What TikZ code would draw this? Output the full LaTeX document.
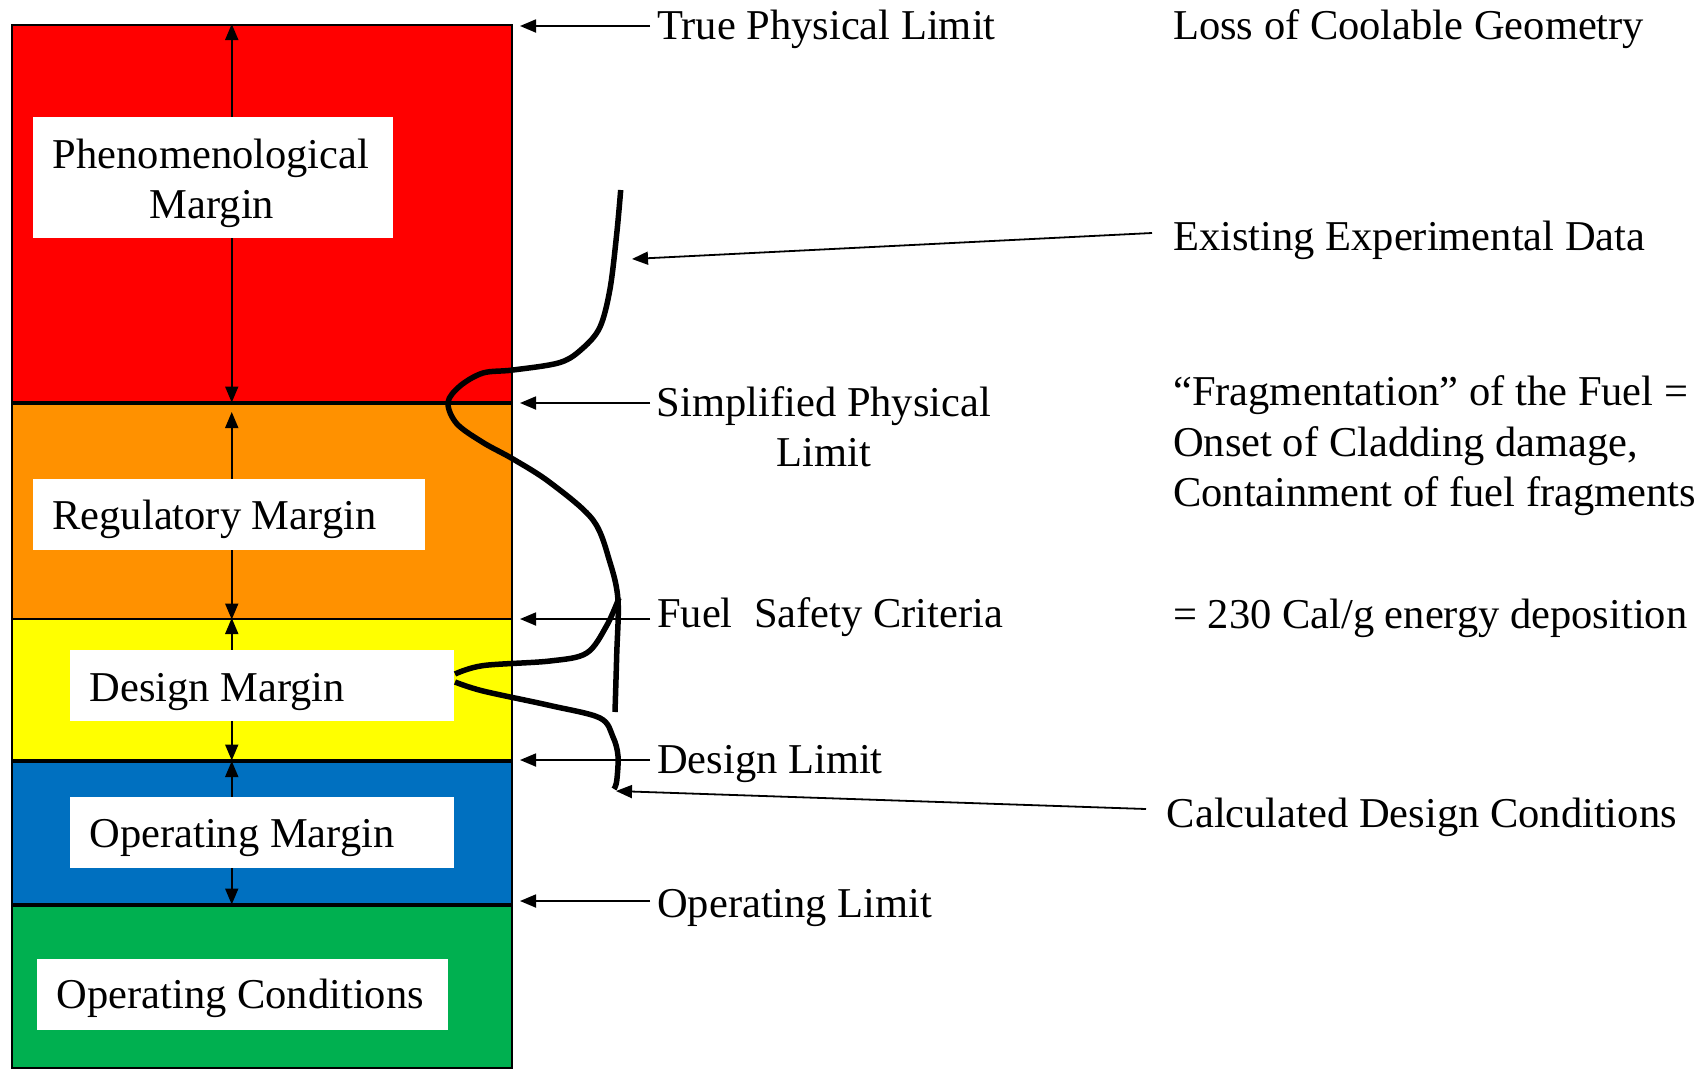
\documentclass[tikz,border=0pt]{standalone}
\usepackage{fontspec}
\setmainfont{Liberation Serif}
\usetikzlibrary{arrows.meta}
\definecolor{bandred}{HTML}{FF0000}
\definecolor{bandorange}{HTML}{FF9100}
\definecolor{bandyellow}{HTML}{FFFF00}
\definecolor{bandblue}{HTML}{0070C0}
\definecolor{bandgreen}{HTML}{00B050}

\begin{document}
\begin{tikzpicture}[x=1pt,y=-1pt,
  font=\fontsize{42.5}{50}\selectfont,
  band/.style={draw=black,line width=1.5pt,minimum width=500pt,anchor=north west,inner sep=0pt},
  whitebox/.style={fill=white,draw=none,anchor=north west,inner sep=0pt,minimum height=71pt},
  txt/.style={inner sep=0pt,anchor=base west},
  ctxt/.style={inner sep=0pt,anchor=base},
  pointer/.style={-{Triangle[length=16pt,width=13pt]},line width=1.8pt},
  span/.style={{Triangle[length=16pt,width=13pt]}-{Triangle[length=16pt,width=13pt]},line width=1.8pt},
  curve/.style={line width=5.5pt}]

\useasboundingbox (0,0) rectangle (1708,1069);

% colour bands
\node[band,fill=bandred,minimum height=377pt]    (red)    at (11,24)  {};
\node[band,fill=bandorange,minimum height=215pt] (orange) at (11,403) {};
\node[band,fill=bandyellow,minimum height=141pt] (yellow) at (11,618) {};
\node[band,fill=bandblue,minimum height=142pt]   (blue)   at (11,761) {};
\node[band,fill=bandgreen,minimum height=162pt]  (green)  at (11,905) {};

% margin extents
\draw[span] ([xshift=-30pt]red.north) -- ([xshift=-30pt]red.south);
\draw[span] ([xshift=-30pt,yshift=-9pt]orange.north) -- ([xshift=-30pt]orange.south);
\draw[span] ([xshift=-30pt]yellow.north) -- ([xshift=-30pt]yellow.south);
\draw[span] ([xshift=-30pt]blue.north) -- ([xshift=-30pt]blue.south);

% label boxes
\node[whitebox,minimum width=360pt,minimum height=121pt] (phenbox) at (33,116.5) {};
\node[whitebox,minimum width=392pt] (regbox)  at (33,479)   {};
\node[whitebox,minimum width=384pt] (desbox)  at (70,650)   {};
\node[whitebox,minimum width=384pt] (opmbox)  at (70,797)   {};
\node[whitebox,minimum width=411pt] (opcbox)  at (37,958.6) {};

\node[ctxt] (phen1) at (211,168) {Phenomenological};
\node[ctxt] (phen2) at (212,218) {Margin};
\node[txt] (regtxt) at (52.3,529) {Regulatory Margin};
\node[txt] (destxt) at (89.3,701) {Design Margin};
\node[txt] (opmtxt) at (89.3,847) {Operating Margin};
\node[txt] (opctxt) at (56.6,1008.6) {Operating Conditions};

% limit labels
\node[txt] (tpl)  at (657,39)  {True Physical Limit};
\node[ctxt] (spl1) at (824,416) {Simplified Physical};
\node[ctxt] (spl2) at (824,466) {Limit};
\node[txt] (fsc)  at (657,627) {Fuel\ \ Safety Criteria};
\node[txt] (dl)   at (657,773) {Design Limit};
\node[txt] (ol)   at (657,917) {Operating Limit};

\coordinate (tplend) at (520,26);
\coordinate (splend) at (520,403);
\coordinate (fscend) at (520,619);
\coordinate (dlend)  at (520,760);
\coordinate (olend)  at (520,901);
\draw[pointer] (650,26)  -- (tplend);
\draw[pointer] (650,403) -- (splend);
\draw[pointer] (650,619) -- (fscend);
\draw[pointer] (650,760) -- (dlend);
\draw[pointer] (650,901) -- (olend);

% right-hand descriptions
\node[txt] (loss)  at (1173,39)    {Loss of Coolable Geometry};
\node[txt] (eed)   at (1173,250.5) {Existing Experimental Data};
\node[txt] (frag1) at (1173,405)   {“Fragmentation” of the Fuel =};
\node[txt] (frag2) at (1173,456)   {Onset of Cladding damage,};
\node[txt] (frag3) at (1173,506.5) {Containment of fuel fragments};
\node[txt] (cal)   at (1173,628.5) {= 230 Cal/g energy deposition};
\node[txt] (cdc)   at (1166.6,827) {Calculated Design Conditions};

% distribution curves
\draw[curve] plot[smooth,tension=0.55] coordinates {
  (620.7,190) (616.7,234) (610,289) (600,327) (583,348) (560,362.5)
  (513,370) (483,373) (460,386) (448,402.5) (456.7,423.6) (483,442.5)
  (513,459) (550,482.5) (593,520) (610,562.5) (618,600) (616.7,655) (615,712)};
\draw[curve] plot[smooth,tension=0.55] coordinates {
  (455,674) (483,665.6) (550,661) (586.7,653) (606.7,625.6) (619,598)};
\draw[curve] plot[smooth,tension=0.55] coordinates {
  (455,682) (483,691) (550,705.5) (600,718) (613,737) (618,756) (616.7,781) (614,789)};

\coordinate (eedtail) at (1152,233);
\coordinate (eedtip)  at (632,259);
\coordinate (cdctail) at (1146,809);
\coordinate (cdctip)  at (616,791);
\draw[pointer] (eedtail) -- (eedtip);
\draw[pointer] (cdctail) -- (cdctip);
\end{tikzpicture}
\end{document}
